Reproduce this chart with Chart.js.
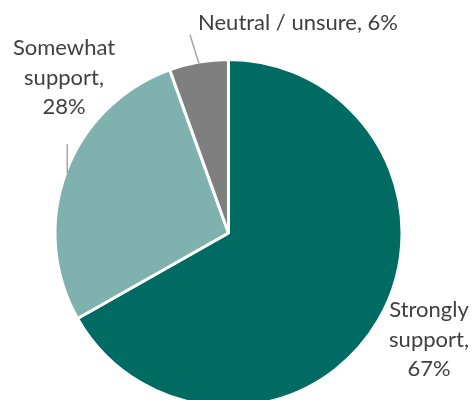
<!DOCTYPE html>
<html>
<head>
<meta charset="utf-8">
<script src="https://cdn.jsdelivr.net/npm/chart.js@4/dist/chart.umd.min.js"></script>
<style>
  html, body { margin: 0; padding: 0; background: #fff; overflow: hidden; }
  #wrap { width: 475px; height: 410px; position: relative; }
</style>
</head>
<body>
<div id="wrap"><canvas id="pie"></canvas></div>
<script>
// data, clockwise from 12 o'clock
const categories = ["Strongly support", "Somewhat support", "Neutral / unsure"];
const shares = [66.8, 27.7, 5.5];
const colors = ["#006B62", "#7FB2AF", "#7F7F7F"];

// label placement (Excel "best fit" look)
const labelLines = [
  ["Strongly", "support,", "{p}"],
  ["Somewhat", "support,", "{p}"],
  ["Neutral / unsure, {p}"]
];
const labelPos = [
  { x: 429, y: 310 },
  { x: 64, y: 48 },
  { x: 298, y: 23 }
];
// leader line: from arc midpoint, offset to the label end (null = none)
const leaders = [null, { dx: 0, dy: -29 }, { dx: -9, dy: -29 }];

const labelPlugin = {
  id: "labels",
  afterDraw(chart) {
    const ctx = chart.ctx;
    const arcs = chart.getDatasetMeta(0).data;
    ctx.save();
    // leader lines
    ctx.strokeStyle = "#A6A6A6";
    ctx.lineWidth = 1.5;
    arcs.forEach((arc, i) => {
      if (!leaders[i]) return;
      const p = arc.getProps(["x", "y", "startAngle", "endAngle", "outerRadius"]);
      const mid = (p.startAngle + p.endAngle) / 2;
      const r = p.outerRadius - 1.5;
      const x0 = p.x + Math.cos(mid) * r;
      const y0 = p.y + Math.sin(mid) * r;
      ctx.beginPath();
      ctx.moveTo(x0, y0);
      ctx.lineTo(x0 + leaders[i].dx, y0 + leaders[i].dy);
      ctx.stroke();
    });
    // text
    ctx.fillStyle = "#404040";
    ctx.font = "22px Lato";
    ctx.textAlign = "center";
    ctx.textBaseline = "middle";
    categories.forEach((c, i) => {
      const pct = Math.round(shares[i]) + "%";
      labelLines[i].forEach((line, k) => {
        ctx.fillText(line.replace("{p}", pct), labelPos[i].x, labelPos[i].y + k * 29.5);
      });
    });
    ctx.restore();
  }
};

new Chart(document.getElementById("pie"), {
  type: "pie",
  data: {
    labels: categories,
    datasets: [{
      data: shares,
      backgroundColor: colors,
      borderColor: "#ffffff",
      borderWidth: 3,
      hoverOffset: 0,
      offset: 0
    }]
  },
  options: {
    responsive: true,
    maintainAspectRatio: false,
    animation: false,
    events: [],
    layout: {
      padding: { left: 53.5, right: 71.5, top: 58, bottom: 2 }
    },
    plugins: {
      legend: { display: false },
      tooltip: { enabled: false }
    }
  },
  plugins: [labelPlugin]
});
</script>
</body>
</html>
